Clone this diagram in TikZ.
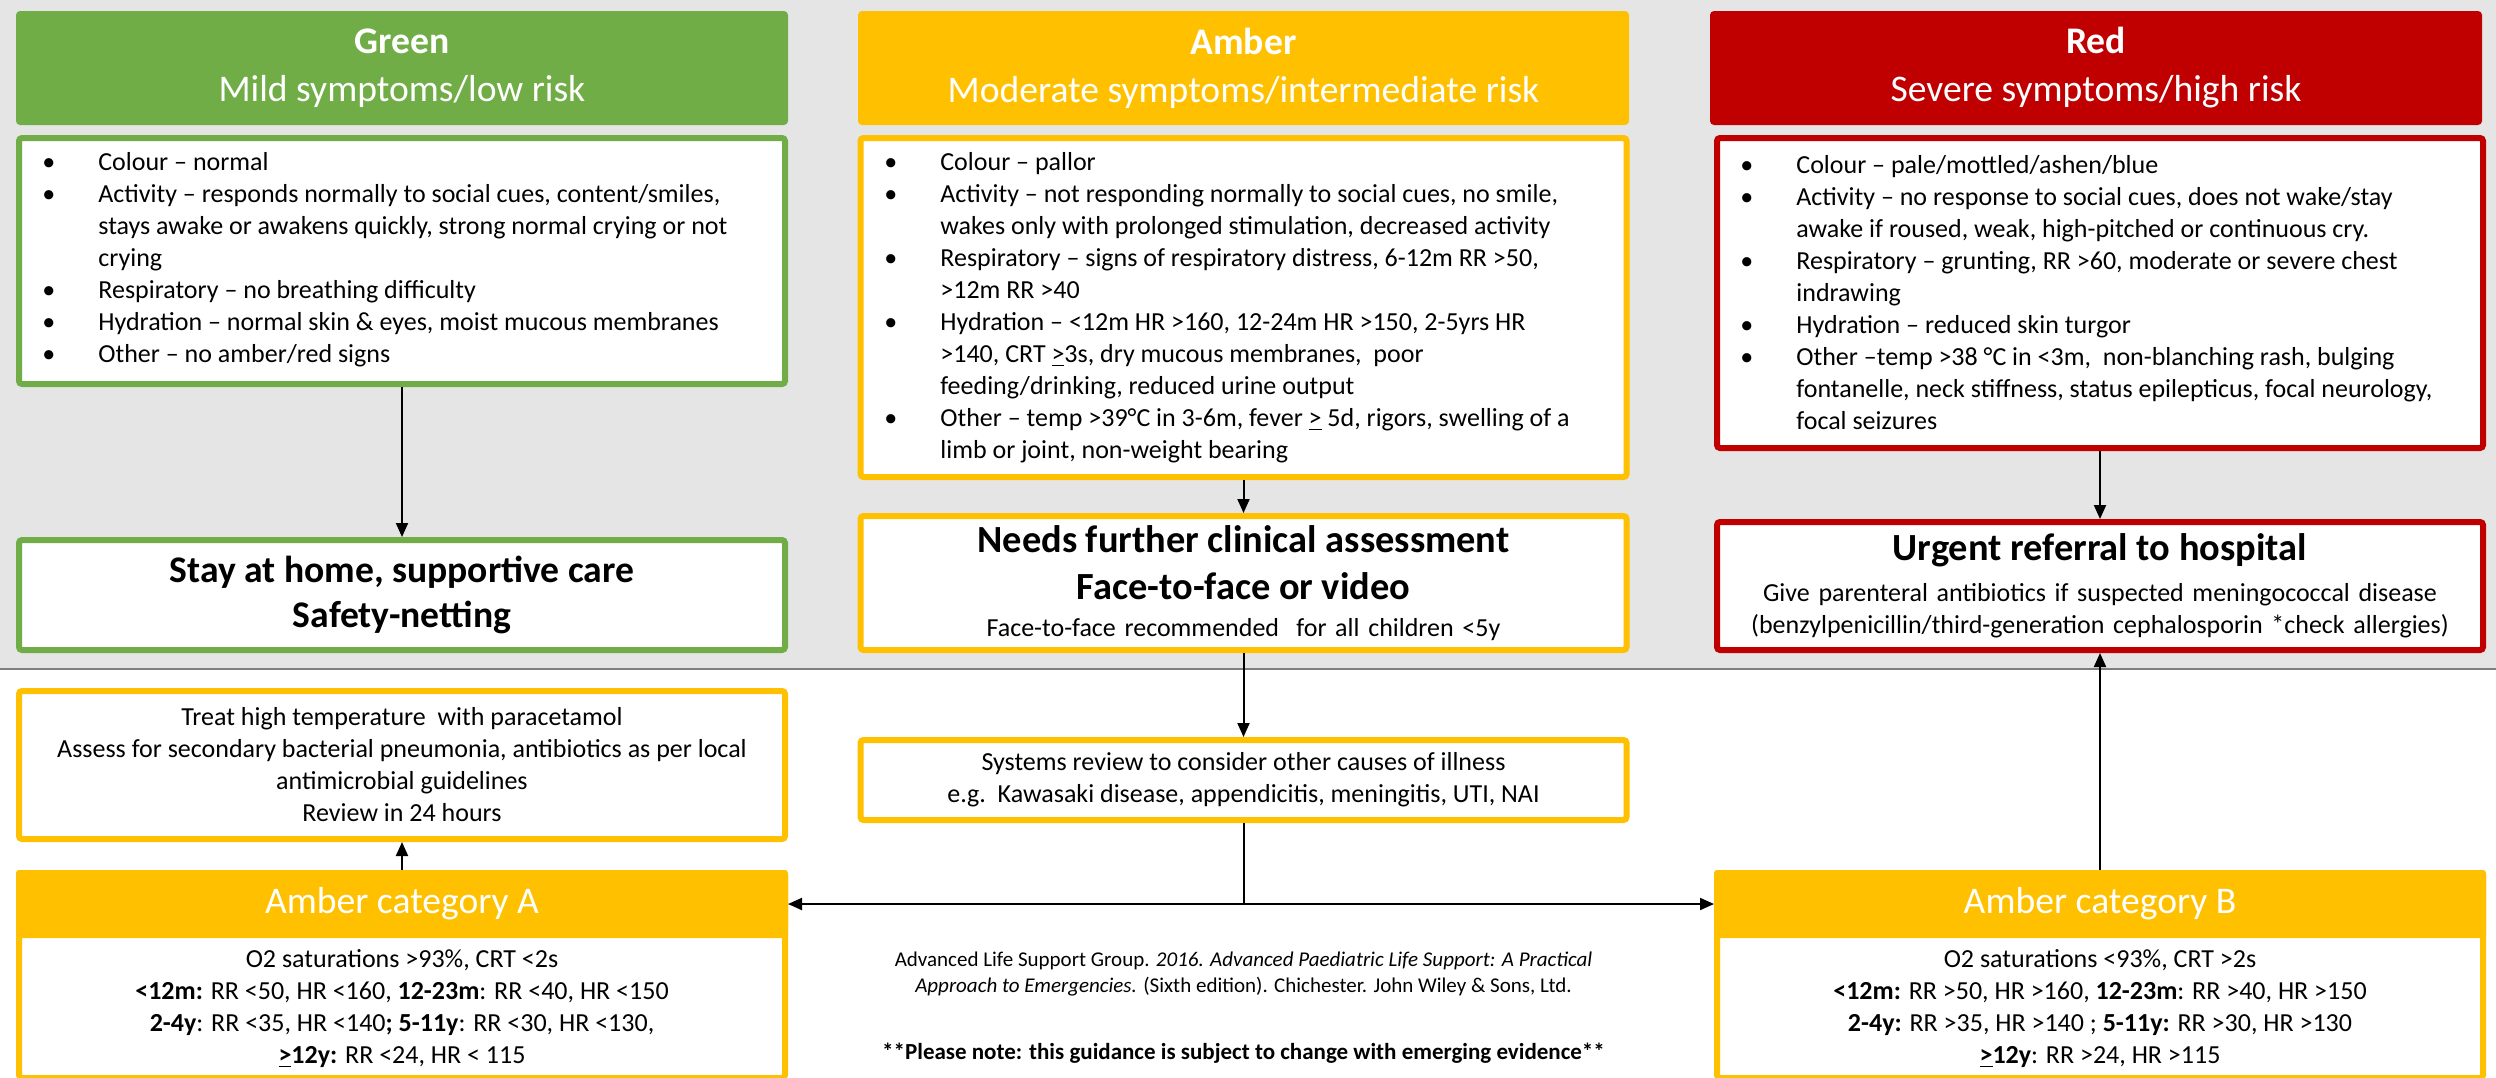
\documentclass[tikz,border=0pt]{standalone}
\usepackage{fontspec}
\setmainfont{Carlito}
\usetikzlibrary{arrows.meta}
\definecolor{cgreen}{HTML}{70AD47}
\definecolor{camber}{HTML}{FFC000}
\definecolor{cred}{HTML}{C00000}
\definecolor{cbg}{HTML}{E5E5E5}
\definecolor{csep}{HTML}{7F7F7F}
\newcommand\HdFont{\fontsize{18.8}{24}\selectfont}
\newcommand\BdFont{\fontsize{13}{16}\selectfont}
\newcommand\CtFont{\fontsize{10.5}{13}\selectfont}
\newcommand\BulX{\makebox[28pt][l]{\textbullet}}
\newcommand\IndX{\makebox[28pt][l]{}}
\tikzset{
  hdr/.style={fill=#1, rounded corners=2pt, text=white, align=center, font=\HdFont,
    minimum width=386pt, minimum height=57pt, inner sep=0pt, outer sep=0pt},
  bbox/.style={draw=#1, line width=3pt, fill=white, rounded corners=1.5pt,
    inner sep=0pt, outer sep=1.5pt, minimum width=383pt, align=center, font=\BdFont},
  btxt/.style={align=left, font=\BdFont, inner sep=0pt, anchor=west},
  ctxt/.style={align=center, font=\BdFont, inner sep=0pt},
  cathdr/.style={fill=camber, text=white, font=\HdFont, minimum width=386pt,
    minimum height=34pt, inner sep=0pt, outer sep=0pt, rounded corners=1.5pt},
  arr/.style={line width=1pt, -{Triangle[length=7pt,width=6pt]}},
  plain/.style={line width=1pt}
}
\begin{document}
\begin{tikzpicture}[x=0.5pt, y=-0.5pt]
\useasboundingbox (0,0) rectangle (2496,1077);
\fill[cbg] (0,0) rectangle (2496,669);
\draw[csep, line width=1.2pt] (0,669) -- (2496,669);

% headers
\node[hdr=cgreen] (gh) at (402,68) {\textbf{Green}\\Mild symptoms/low risk};
\node[hdr=camber, minimum width=385.5pt] (ah) at (1243.5,68) {\textbf{Amber}\\Moderate symptoms/intermediate risk};
\node[hdr=cred] (rh) at (2096,68) {\textbf{Red}\\Severe symptoms/high risk};

% bullet boxes
\node[bbox=cgreen, minimum height=123pt] (gb) at (402,261) {};
\node[btxt] (gbt) at (42,260) {\BulX Colour – normal\\
\BulX Activity – responds normally to social cues, content/smiles,\\
\IndX stays awake or awakens quickly, strong normal crying or not\\
\IndX crying\\
\BulX Respiratory – no breathing difficulty\\
\BulX Hydration – normal skin \& eyes, moist mucous membranes\\
\BulX Other – no amber/red signs};

\node[bbox=camber, minimum height=169.5pt] (ab) at (1243.5,307.5) {};
\node[btxt] (abt) at (884,307.5) {\BulX Colour – pallor\\
\BulX Activity – not responding normally to social cues, no smile,\\
\IndX wakes only with prolonged stimulation, decreased activity\\
\BulX Respiratory – signs of respiratory distress, 6-12m RR >50,\\
\IndX >12m RR >40\\
\BulX Hydration – <12m HR >160, 12-24m HR >150, 2-5yrs HR\\
\IndX >140, CRT \underline{>}3s, dry mucous membranes,\ \ poor\\
\IndX feeding/drinking, reduced urine output\\
\BulX Other – temp >39°C in 3-6m, fever \underline{>} 5d, rigors, swelling of a\\
\IndX limb or joint, non-weight bearing};

\node[bbox=cred, minimum height=155pt] (rb) at (2100,293) {};
\node[btxt] (rbt) at (1740,293) {\BulX Colour – pale/mottled/ashen/blue\\
\BulX Activity – no response to social cues, does not wake/stay\\
\IndX awake if roused, weak, high-pitched or continuous cry.\\
\BulX Respiratory – grunting, RR >60, moderate or severe chest\\
\IndX indrawing\\
\BulX Hydration – reduced skin turgor\\
\BulX Other –temp >38 °C in <3m,\ \ non-blanching rash, bulging\\
\IndX fontanelle, neck stiffness, status epilepticus, focal neurology,\\
\IndX focal seizures};

% outcome boxes
\node[bbox=cgreen, minimum height=55pt, font=\fontsize{18.8}{22.5}\selectfont\bfseries] (stay) at (402,595)
  {Stay at home, supportive care\\Safety-netting};
\node[bbox=camber, minimum height=67pt, text width=380pt] (needs) at (1243.5,583)
  {{\fontsize{19.2}{23.5}\selectfont\bfseries Needs further clinical assessment\par Face-to-face or video\par}%
   {\fontsize{13}{18.5}\selectfont Face-to-face recommended\ \ for all children <5y\par}};
\node[bbox=cred, minimum height=64pt, text width=380pt] (urgent) at (2100,586)
  {{\fontsize{19.2}{23.5}\selectfont\bfseries Urgent referral to hospital\par}%
   {\fontsize{13}{20.5}\selectfont Give parenteral antibiotics if suspected meningococcal disease\par}%
   {\BdFont (benzylpenicillin/third-generation cephalosporin *check allergies)\par}};

% lower part
\node[bbox=camber, minimum height=74pt] (treat) at (402,765)
  {Treat high temperature\ \ with paracetamol\\
   Assess for secondary bacterial pneumonia, antibiotics as per local\\
   antimicrobial guidelines\\
   Review in 24 hours};
\node[bbox=camber, minimum height=40pt] (systems) at (1243.5,780)
  {Systems review to consider other causes of illness\\
   e.g.\ \ Kawasaki disease, appendicitis, meningitis, UTI, NAI};

\node[bbox=camber, minimum height=102.5pt, rounded corners=1.5pt] (catAbody) at (402,975.5) {};
\node[cathdr] (catA) at (402,904) {Amber category A};
\node[ctxt] (catAt) at (402,1009) {O2 saturations >93\%, CRT <2s\\
  \textbf{<12m:} RR <50, HR <160, \textbf{12-23m}: RR <40, HR <150\\
  \textbf{2-4y}: RR <35, HR <140\textbf{;} \textbf{5-11y}: RR <30, HR <130,\\
  \textbf{\underline{>}12y:} RR <24, HR < 115};

\node[bbox=camber, minimum height=102.5pt] (catBbody) at (2100,975.5) {};
\node[cathdr] (catB) at (2100,904) {Amber category B};
\node[ctxt] (catBt) at (2100,1009) {O2 saturations <93\%, CRT >2s\\
  \textbf{<12m:} RR >50, HR >160, \textbf{12-23m}: RR >40, HR >150\\
  \textbf{2-4y:} RR >35, HR >140 ; \textbf{5-11y:} RR >30, HR >130\\
  \textbf{\underline{>}12y}: RR >24, HR >115};

\node[ctxt, font=\CtFont] (cite) at (1243.5,974)
  {Advanced Life Support Group. \textit{2016. Advanced Paediatric Life Support: A Practical}\\
   \textit{Approach to Emergencies.} (Sixth edition). Chichester. John Wiley \& Sons, Ltd.};
\node[ctxt, font=\fontsize{11.5}{14}\selectfont\bfseries] (note) at (1243.5,1053)
  {**Please note: this guidance is subject to change with emerging evidence**};

% connectors
\draw[arr] (gb.south) -- (stay.north);
\draw[arr] (ab.south) -- (needs.north);
\draw[arr] (rb.south) -- (urgent.north);
\draw[arr] (needs.south) -- (systems.north);
\coordinate (j) at (1243.5,904);
\draw[plain] (systems.south) -- (j);
\draw[arr] (j) -- (catA.east);
\draw[arr] (j) -- (catB.west);
\draw[arr] (catA.north) -- (treat.south);
\draw[arr] (catB.north) -- (urgent.south);
\end{tikzpicture}
\end{document}
